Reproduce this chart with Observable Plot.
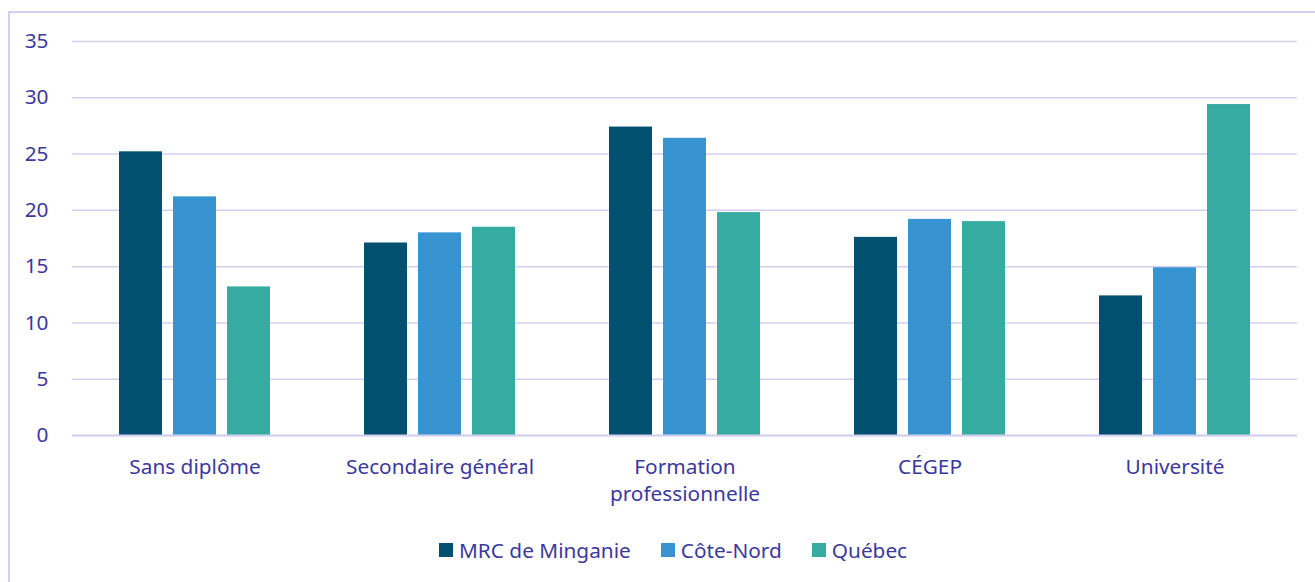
<!DOCTYPE html>
<html><head><meta charset="utf-8">
<script src="https://cdn.jsdelivr.net/npm/d3@7"></script>
<script src="https://cdn.jsdelivr.net/npm/@observablehq/plot@0.6"></script>
<style>
body{margin:0;background:#fff;overflow:hidden;}
#wrap{position:relative;width:1315px;height:582px;font-family:"Noto Sans",sans-serif;color:#3b389e;}
#frame{position:absolute;left:8px;top:11px;width:1330px;height:600px;border:2px solid #d3cfee;box-sizing:border-box;pointer-events:none;}
#chart{position:absolute;left:0;top:0;}
#legend{position:absolute;left:439px;top:536px;height:28px;display:flex;align-items:center;font-size:20.8px;white-space:nowrap;}
#legend .item{display:flex;align-items:center;margin-right:30px;}
#legend .sw{width:14px;height:14px;margin-right:6px;}
</style>
</head><body>
<div id="wrap"><div id="chart"></div><div id="legend"></div><div id="frame"></div></div>
<script>
const categories = ["Sans diplôme", "Secondaire général", "Formation professionnelle", "CÉGEP", "Université"];
const tickLabels = ["Sans diplôme", "Secondaire général", "Formation\nprofessionnelle", "CÉGEP", "Université"];
const series = ["MRC de Minganie", "Côte-Nord", "Québec"];
const colors = ["#02506f", "#3894d1", "#36aba2"];
const mrc = [25.2, 17.1, 27.4, 17.6, 12.4];
const coteNord = [21.2, 18.0, 26.4, 19.2, 14.9];
const quebec = [13.2, 18.5, 19.8, 19.0, 29.4];
const yTicks = [0, 5, 10, 15, 20, 25, 30, 35];

const seriesValues = [mrc, coteNord, quebec];
const rows = [];
series.forEach((s, i) => categories.forEach((c, j) => rows.push({category: c, series: s, value: seriesValues[i][j]})));

const gridColor = "#d3cfee";
const chart = Plot.plot({
  width: 1315,
  height: 520,
  marginLeft: 72,
  marginRight: 18,
  marginTop: 41,
  marginBottom: 85,
  style: {fontFamily: "'Noto Sans', sans-serif", fontSize: "20.8px", color: "#3b389e", background: "transparent"},
  x: {type: "band", domain: categories, paddingInner: 0.3837, paddingOuter: 0.1918, round: false},
  y: {domain: [0, 35]},
  color: {domain: series, range: colors},
  marks: [
    Plot.gridY(yTicks, {stroke: gridColor, strokeOpacity: 1, strokeWidth: 1.5}),
    ...series.map((s, i) => Plot.barY(rows.filter(r => r.series === s), {
      x: "category", y: "value", fill: "series",
      insetLeft: i * 54, insetRight: (series.length - 1 - i) * 54
    })),
    Plot.ruleY([0], {stroke: gridColor, strokeWidth: 2}),
    Plot.axisY(yTicks, {tickSize: 0, tickPadding: 24, label: null, fontSize: 20.8}),
    Plot.axisX({tickSize: 0, tickPadding: 19, label: null, fontSize: 20.8, lineHeight: 1.3,
      tickFormat: d => tickLabels[categories.indexOf(d)]})
  ]
});
document.getElementById("chart").appendChild(chart);

const legend = document.getElementById("legend");
series.forEach((s, i) => {
  const item = document.createElement("div");
  item.className = "item";
  const sw = document.createElement("span");
  sw.className = "sw";
  sw.style.background = colors[i];
  const t = document.createElement("span");
  t.textContent = s;
  item.appendChild(sw); item.appendChild(t);
  legend.appendChild(item);
});
</script>
</body></html>
